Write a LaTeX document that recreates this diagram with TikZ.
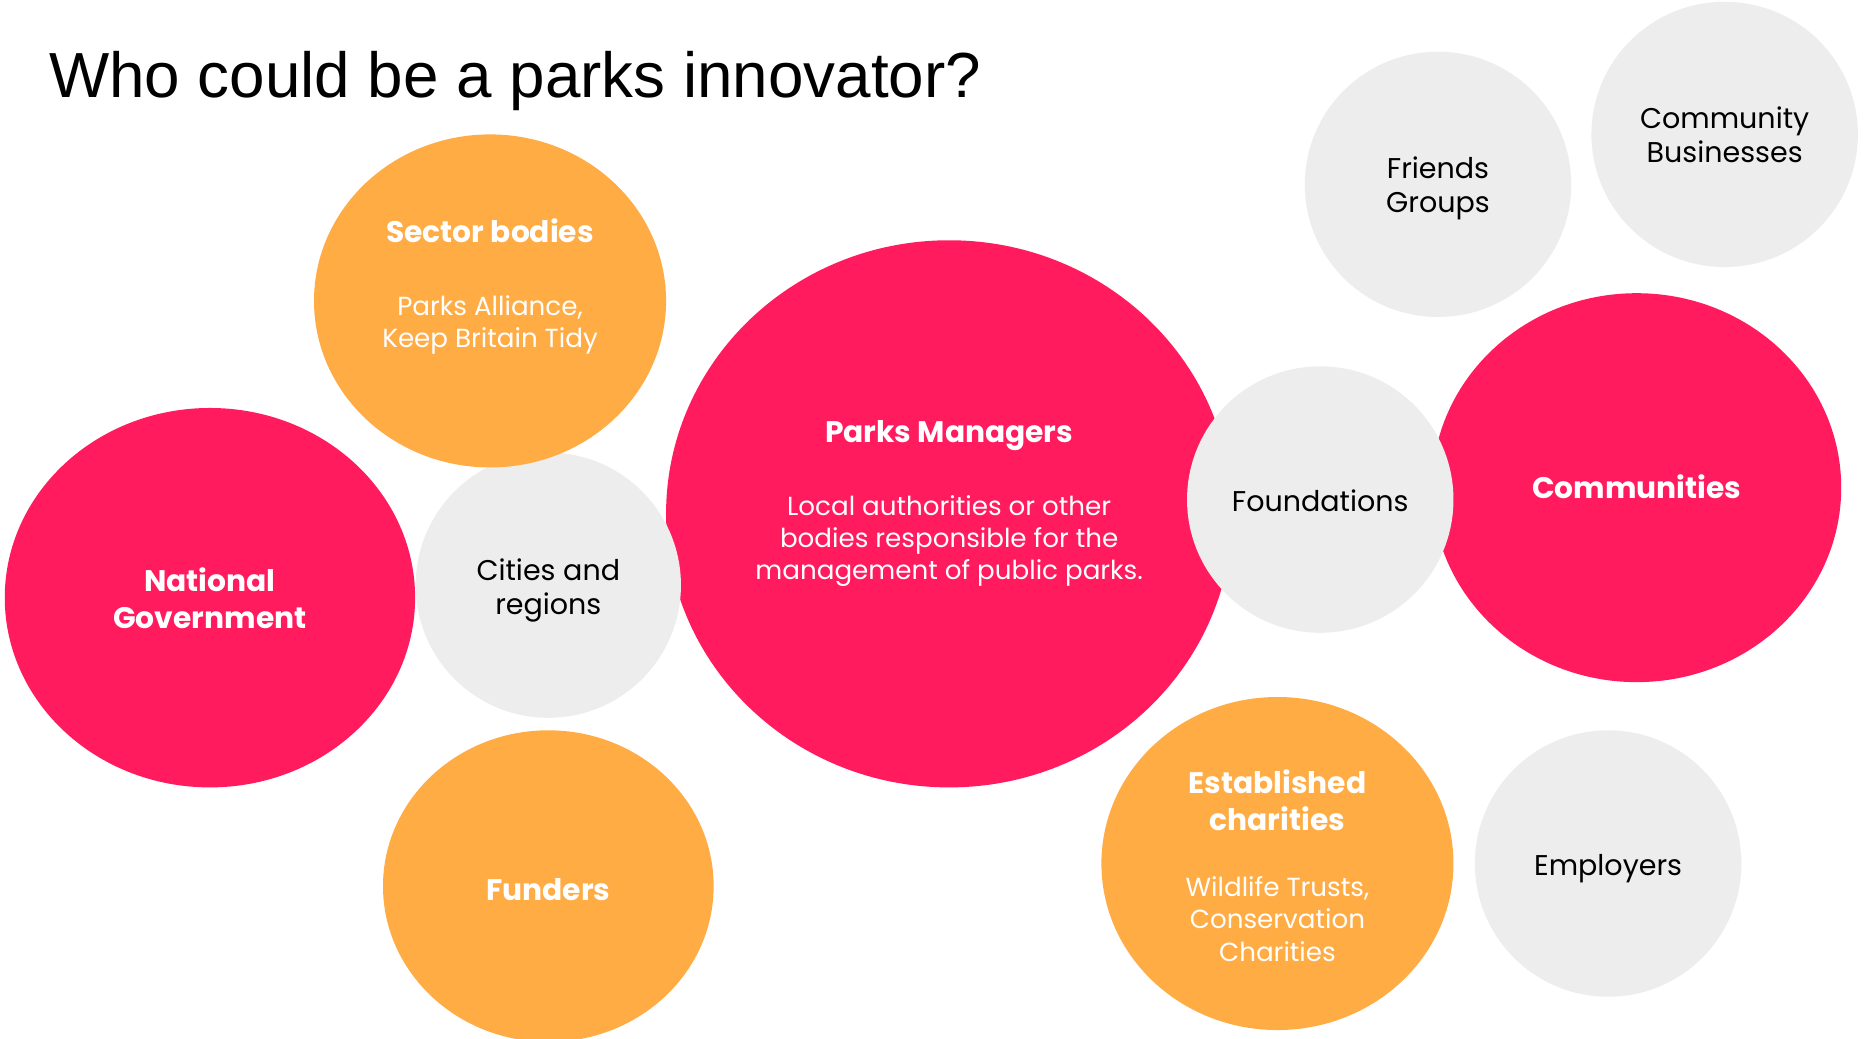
\documentclass[tikz,border=0pt]{standalone}
\usepackage{fontspec}
\setmainfont{Poppins}
\newfontfamily\titlefont{Liberation Sans}
\usetikzlibrary{shapes.geometric}
\definecolor{pinkC}{HTML}{FF1B5E}
\definecolor{orangeC}{HTML}{FFAC45}
\definecolor{grayC}{HTML}{EDEDED}
\begin{document}
\begin{tikzpicture}[x=1pt,y=-1pt,
  blob/.style 2 args={ellipse, draw=none, inner sep=0pt, minimum width=#1, minimum height=#2},
  pinkblob/.style={fill=pinkC},
  orangeblob/.style={fill=orangeC},
  grayblob/.style={fill=grayC},
  hd/.style={text=white, font=\fontsize{25}{30}\selectfont\bfseries, anchor=base, inner sep=0pt},
  sub/.style={text=white, font=\fontsize{22}{27}\selectfont, anchor=base, inner sep=0pt},
  blk/.style={text=black, font=\fontsize{24}{29}\selectfont, anchor=base, inner sep=0pt}]
\useasboundingbox (0,0) rectangle (1568,873);
\fill[white] (0,0) rectangle (1568,873);

% title
\node[anchor=base west, inner sep=0pt, font=\titlefont\fontsize{53.6}{60}\selectfont] (title) at (41,82) {Who could be a parks innovator?};

% pink circles
\node[blob={476}{460}, pinkblob] (pm) at (798,432) {};
\node[blob={344}{327}, pinkblob] (comm) at (1376,410) {};
\node[blob={345}{319}, pinkblob] (natgov) at (176.5,502.5) {};

% gray circles
\node[blob={223}{223}, grayblob] (cities) at (461,492) {};
\node[blob={224}{224}, grayblob] (found) at (1110,420) {};
\node[blob={224}{223}, grayblob] (friends) at (1209,155) {};
\node[blob={224}{223}, grayblob] (combus) at (1450,113) {};
\node[blob={224}{224}, grayblob] (employ) at (1352,726) {};

% orange circles
\node[blob={296}{280}, orangeblob] (sector) at (412,253) {};
\node[blob={278}{262}, orangeblob] (funders) at (461,745) {};
\node[blob={296}{280}, orangeblob] (estab) at (1074,726) {};

% texts
\node[hd] (sectorT) at (412,204) {Sector bodies};
\node[sub] (sectorS1) at (412,265) {Parks Alliance,};
\node[sub] (sectorS2) at (412,292.5) {Keep Britain Tidy};

\node[hd] (pmT) at (798,372) {Parks Managers};
\node[sub] (pmS1) at (798,433) {Local authorities or other};
\node[sub] (pmS2) at (798,460) {bodies responsible for the};
\node[sub] (pmS3) at (798,487) {management of public parks.};

\node[hd] (natT1) at (176.5,497) {National};
\node[hd] (natT2) at (176.5,528) {Government};

\node[blk] (citiesT1) at (461,488) {Cities and};
\node[blk] (citiesT2) at (461,517) {regions};

\node[hd] (fundersT) at (461,757) {Funders};

\node[blk] (foundT) at (1110,430) {Foundations};

\node[hd] (commT) at (1376,419) {Communities};

\node[blk] (friendsT1) at (1209,150) {Friends};
\node[blk] (friendsT2) at (1209,179) {Groups};

\node[blk] (combusT1) at (1450,108) {Community};
\node[blk] (combusT2) at (1450,137) {Businesses};

\node[hd] (estabT1) at (1074,667) {Established};
\node[hd] (estabT2) at (1074,698) {charities};
\node[sub] (estabS1) at (1074,754) {Wildlife Trusts,};
\node[sub] (estabS2) at (1074,781) {Conservation};
\node[sub] (estabS3) at (1074,808) {Charities};

\node[blk] (employT) at (1352,736) {Employers};
\end{tikzpicture}
\end{document}
